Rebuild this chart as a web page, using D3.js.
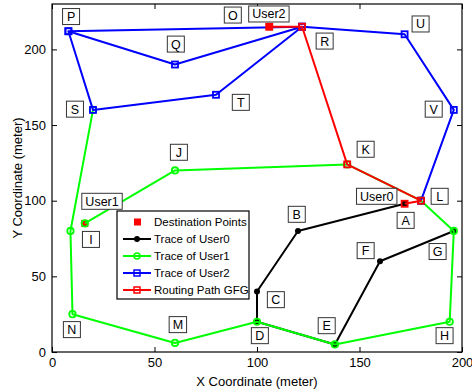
<!DOCTYPE html>
<html>
<head>
<meta charset="utf-8">
<script src="https://cdn.jsdelivr.net/npm/d3@7"></script>
<style>
  body { margin: 0; background: #fff; }
  text { font-family: "Liberation Sans", Arial, sans-serif; }
</style>
</head>
<body>
<svg id="chart"></svg>
<script>
// Width and height of the picture
const width = 472;
const height = 392;

// Data (meters)
const destPoints = [[172, 98], [16, 85], [106, 215]];
const user0 = [[172, 98], [120, 80], [100, 40], [100, 20], [138, 5], [160, 60], [196, 80]];
const user1 = [[16, 85], [60, 120], [144, 124], [180, 100], [196, 80], [194, 20], [138, 5], [100, 20], [60, 6], [10, 25], [9, 80], [20, 160]];
const user2 = [[180, 100], [196, 160], [172, 210], [122, 215], [8, 212], [60, 190], [122, 215], [80, 170], [20, 160], [8, 212]];
const routeGFG = [[172, 98], [180, 100], [144, 124], [122, 215], [106, 215]];

// Point labels [text, x, y]
const labels = [
  ["P", 9.3, 221.7], ["O", 88.2, 222.7], ["User2", 105.8, 223.4], ["Q", 60.4, 203.5],
  ["R", 133, 205.5], ["U", 179.8, 216.8], ["S", 11.2, 160.5], ["T", 92.1, 165],
  ["V", 186.2, 160.5], ["J", 61.9, 132], ["K", 153, 134], ["User0", 158.4, 102.9],
  ["L", 189.1, 102.9], ["User1", 24.4, 99.6], ["I", 19, 74.4], ["A", 172.5, 87],
  ["B", 119.4, 91], ["F", 153, 67], ["G", 188.1, 66.4], ["C", 109.2, 34.6],
  ["E", 134, 17.4], ["D", 101.4, 10.8], ["H", 191.5, 10.8], ["M", 61.4, 18.1], ["N", 9.7, 14.8]
];

const xTicks = [0, 50, 100, 150, 200];
const yTicks = [0, 50, 100, 150, 200];
const legendNames = ["Destination Points", "Trace of User0", "Trace of User1", "Trace of User2", "Routing Path GFG"];

const margin = { left: 52, right: 10, top: 4, bottom: 40 };

const svg = d3.select("#chart")
  .attr("width", width)
  .attr("height", height);

const x = d3.scaleLinear().domain([0, 200]).range([margin.left, width - margin.right]);
const y = d3.scaleLinear().domain([0, 230]).range([height - margin.bottom, margin.top]);

// Axes with inward ticks on all four sides
const tickLen = 5;
svg.append("g")
  .attr("transform", `translate(0,${y(0)})`)
  .call(d3.axisBottom(x).tickValues(xTicks).tickSizeInner(-tickLen).tickSizeOuter(0).tickPadding(6));
svg.append("g")
  .attr("transform", `translate(0,${y(230)})`)
  .call(d3.axisTop(x).tickValues(xTicks).tickSizeInner(-tickLen).tickSizeOuter(0).tickFormat(""));
svg.append("g")
  .attr("transform", `translate(${x(0)},0)`)
  .call(d3.axisLeft(y).tickValues(yTicks).tickSizeInner(-tickLen).tickSizeOuter(0).tickPadding(6));
svg.append("g")
  .attr("transform", `translate(${x(200)},0)`)
  .call(d3.axisRight(y).tickValues(yTicks).tickSizeInner(-tickLen).tickSizeOuter(0).tickFormat(""));

svg.selectAll(".domain").remove();
svg.selectAll(".tick line").attr("stroke", "#000");
svg.selectAll(".tick text").attr("font-size", 13).attr("fill", "#000")
  .attr("font-family", "Liberation Sans, Arial, sans-serif");

// Frame
svg.append("rect")
  .attr("x", x(0)).attr("y", y(230))
  .attr("width", x(200) - x(0)).attr("height", y(0) - y(230))
  .attr("fill", "none").attr("stroke", "#000").attr("stroke-width", 1.2);

// Axis titles
svg.append("text")
  .attr("x", (x(0) + x(200)) / 2).attr("y", height - 6)
  .attr("text-anchor", "middle").attr("font-size", 13)
  .text("X Coordinate (meter)");
svg.append("text")
  .attr("transform", `translate(22,${(y(0) + y(230)) / 2}) rotate(-90)`)
  .attr("text-anchor", "middle").attr("font-size", 13)
  .text("Y Coordinate (meter)");

const line = d3.line().x(d => x(d[0])).y(d => y(d[1]));

function drawLine(data, color) {
  svg.append("path")
    .datum(data)
    .attr("d", line)
    .attr("fill", "none")
    .attr("stroke", color)
    .attr("stroke-width", 2)
    .attr("stroke-linejoin", "round");
}

function drawSquares(data, color, size, filled) {
  svg.selectAll(null)
    .data(data)
    .enter()
    .append("rect")
    .attr("x", d => x(d[0]) - size / 2)
    .attr("y", d => y(d[1]) - size / 2)
    .attr("width", size).attr("height", size)
    .attr("fill", filled ? color : "none")
    .attr("stroke", color)
    .attr("stroke-width", filled ? 0 : 1.8);
}

function drawCircles(data, color, r, filled) {
  svg.selectAll(null)
    .data(data)
    .enter()
    .append("circle")
    .attr("cx", d => x(d[0]))
    .attr("cy", d => y(d[1]))
    .attr("r", r)
    .attr("fill", filled ? color : "none")
    .attr("stroke", color)
    .attr("stroke-width", filled ? 0 : 1.8);
}

// Plot in MATLAB order
drawSquares(destPoints, "#ff0000", 7, true);
drawLine(user0, "#000");
drawCircles(user0, "#000", 3, true);
drawLine(user1, "#00ff00");
drawCircles(user1, "#00ff00", 3.2, false);
drawLine(user2, "#0000ff");
drawSquares(user2, "#0000ff", 6, false);
drawLine(routeGFG, "#ff0000");
drawSquares(routeGFG, "#ff0000", 6, false);
drawSquares(destPoints.slice(2), "#ff0000", 7, true);

// Point labels with boxes
const lab = svg.selectAll(".label")
  .data(labels)
  .enter()
  .append("g")
  .attr("class", "label")
  .attr("transform", d => `translate(${x(d[1])},${y(d[2])})`);

lab.append("text")
  .attr("text-anchor", "middle")
  .attr("dy", "0.36em")
  .attr("font-size", 12.5)
  .text(d => d[0]);

lab.each(function() {
  const g = d3.select(this);
  const b = g.select("text").node().getBBox();
  const w = Math.max(b.width + 7, 17);
  g.insert("rect", "text")
    .attr("x", -w / 2).attr("y", -8)
    .attr("width", w).attr("height", 16)
    .attr("fill", "#fff")
    .attr("stroke", "#333")
    .attr("stroke-width", 1);
});

// Legend
const legend = svg.append("g").attr("transform", "translate(117,211)");
legend.append("rect")
  .attr("width", 132).attr("height", 88)
  .attr("fill", "#fff").attr("stroke", "#000").attr("stroke-width", 1.2);

const legendColors = ["#ff0000", "#000", "#00ff00", "#0000ff", "#ff0000"];
legendNames.forEach((name, i) => {
  const ly = 11 + i * 17;
  const c = legendColors[i];
  if (i === 0) {
    legend.append("rect").attr("x", 17).attr("y", ly - 3.5).attr("width", 7).attr("height", 7).attr("fill", c);
  } else {
    legend.append("line").attr("x1", 6).attr("x2", 34).attr("y1", ly).attr("y2", ly)
      .attr("stroke", c).attr("stroke-width", 2);
    if (i === 1) legend.append("circle").attr("cx", 20).attr("cy", ly).attr("r", 3).attr("fill", c);
    if (i === 2) legend.append("circle").attr("cx", 20).attr("cy", ly).attr("r", 3).attr("fill", "none").attr("stroke", c).attr("stroke-width", 1.5);
    if (i >= 3) legend.append("rect").attr("x", 17).attr("y", ly - 3).attr("width", 6).attr("height", 6).attr("fill", "none").attr("stroke", c).attr("stroke-width", 1.5);
  }
  legend.append("text")
    .attr("x", 37).attr("y", ly).attr("dy", "0.36em")
    .attr("font-size", 11.5)
    .text(name);
});
</script>
</body>
</html>
